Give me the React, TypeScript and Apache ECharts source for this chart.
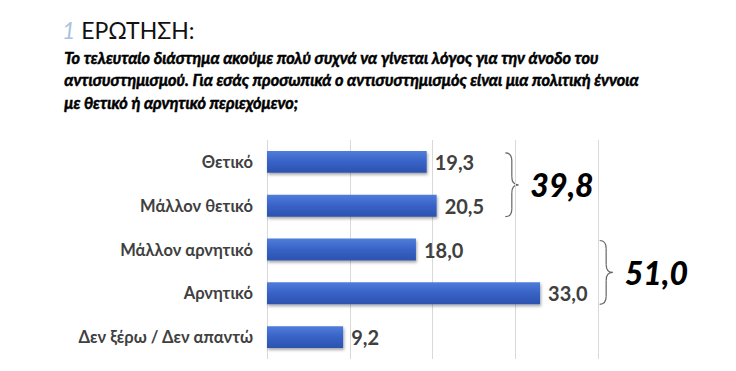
import React, { useEffect, useRef } from "react";
import * as echarts from "echarts";

const categories = ["Θετικό", "Μάλλον θετικό", "Μάλλον αρνητικό", "Αρνητικό", "Δεν ξέρω / Δεν απαντώ"];
const values = [19.3, 20.5, 18.0, 33.0, 9.2];
const groupTotals = ["39,8", "51,0"];
const groups = [[0, 1], [2, 3]];
const groupBraceX = [28.8, 40.2];
const xTicks = { min: 0, max: 40, interval: 10 };
const titleNumber = "1";
const titleText = " ΕΡΩΤΗΣΗ:";
const questionLines = [
  "Το τελευταίο διάστημα ακούμε πολύ συχνά να γίνεται λόγος για την άνοδο του",
  "αντισυστημισμού. Για εσάς προσωπικά ο αντισυστημισμός είναι μια πολιτική έννοια",
  "με θετικό ή αρνητικό περιεχόμενο;",
];

const fmt = (v: number) => v.toFixed(1).replace(".", ",");

export default function App() {
  const ref = useRef<HTMLDivElement>(null);
  useEffect(() => {
    if (!ref.current) return;
    const chart = echarts.init(ref.current, null, { renderer: "svg" });
    const option: any = {
      animation: false,
      backgroundColor: "#ffffff",
      grid: { left: 267, right: 138, top: 140, bottom: 12 },
      xAxis: {
        type: "value",
        min: xTicks.min,
        max: xTicks.max,
        interval: xTicks.interval,
        axisLabel: { show: false },
        axisLine: { show: false },
        axisTick: { show: false },
        splitLine: { show: true, lineStyle: { color: "#d9d9d9", width: 1 } },
      },
      yAxis: {
        type: "category",
        inverse: true,
        data: categories,
        axisLine: { show: false },
        axisTick: { show: false },
        axisLabel: {
          color: "#404040",
          fontFamily: "Lato",
          fontWeight: 700,
          fontSize: 16.5,
          margin: 14,
        },
      },
      series: [
        {
          type: "bar",
          data: values,
          barWidth: "50%",
          itemStyle: {
            color: new echarts.graphic.LinearGradient(0, 0, 0, 1, [
              { offset: 0, color: "#4f7ddb" },
              { offset: 0.5, color: "#3862c6" },
              { offset: 1, color: "#2c52ae" },
            ]),
            shadowColor: "rgba(0,0,0,0.35)",
            shadowBlur: 3,
            shadowOffsetX: 1,
            shadowOffsetY: 2,
          },
          label: {
            show: true,
            position: "right",
            distance: 8,
            formatter: (p: any) => fmt(p.value),
            color: "#404040",
            fontFamily: "Lato",
            fontWeight: 700,
            fontSize: 20,
          },
        },
      ],
      graphic: [
        {
          type: "text",
          left: 62,
          top: 18,
          style: {
            text: `{n|${titleNumber}}{t|${titleText}}`,
            rich: {
              n: { fontFamily: "Lato", fontWeight: 400, fontStyle: "italic", fontSize: 23, fill: "#a8c4df" },
              t: { fontFamily: "Lato", fontWeight: 400, fontSize: 23, fill: "#111111" },
            },
          },
        },
        {
          type: "text",
          left: 64,
          top: 46,
          style: {
            text: questionLines.join("\n"),
            fontFamily: "Lato",
            fontWeight: 700,
            fontStyle: "italic",
            fontSize: 16.3,
            lineHeight: 22.5,
            fill: "#000000",
            stroke: "#000000",
            lineWidth: 0.5,
          },
        },
      ],
    };
    chart.setOption(option);

    const braceW = 13;
    const els: any[] = [];
    groups.forEach((g, i) => {
      const p1 = chart.convertToPixel({ gridIndex: 0 }, [groupBraceX[i], categories[g[0]]]);
      const p2 = chart.convertToPixel({ gridIndex: 0 }, [groupBraceX[i], categories[g[1]]]);
      const x0 = p1[0];
      const yTop = p1[1] - 9;
      const yBot = p2[1] + 11;
      const yMid = (yTop + yBot) / 2;
      const r = 8;
      const xm = x0 + braceW / 2;
      const ls = { stroke: "#666666", lineWidth: 1.2, fill: null };
      els.push(
        { type: "bezierCurve", shape: { x1: x0, y1: yTop, cpx1: xm, cpy1: yTop, x2: xm, y2: yTop + r }, style: ls },
        { type: "line", shape: { x1: xm, y1: yTop + r, x2: xm, y2: yMid - r }, style: ls },
        { type: "bezierCurve", shape: { x1: xm, y1: yMid - r, cpx1: xm, cpy1: yMid, x2: x0 + braceW, y2: yMid }, style: ls },
        { type: "bezierCurve", shape: { x1: x0 + braceW, y1: yMid, cpx1: xm, cpy1: yMid, x2: xm, y2: yMid + r }, style: ls },
        { type: "line", shape: { x1: xm, y1: yMid + r, x2: xm, y2: yBot - r }, style: ls },
        { type: "bezierCurve", shape: { x1: xm, y1: yBot - r, cpx1: xm, cpy1: yBot, x2: x0, y2: yBot }, style: ls },
        {
          type: "text",
          x: x0 + braceW + 12,
          y: yMid,
          style: {
            text: groupTotals[i],
            fontFamily: "Lato",
            fontWeight: 900,
            fontStyle: "italic",
            fontSize: 32,
            fill: "#000000",
            textVerticalAlign: "middle",
            verticalAlign: "middle",
          },
        }
      );
    });
    chart.setOption({ graphic: [...option.graphic, ...els] });

    return () => chart.dispose();
  }, []);
  return (
    <div
      ref={ref}
      style={{ position: "fixed", left: 0, top: 0, width: 736, height: 371 }}
    />
  );
}
